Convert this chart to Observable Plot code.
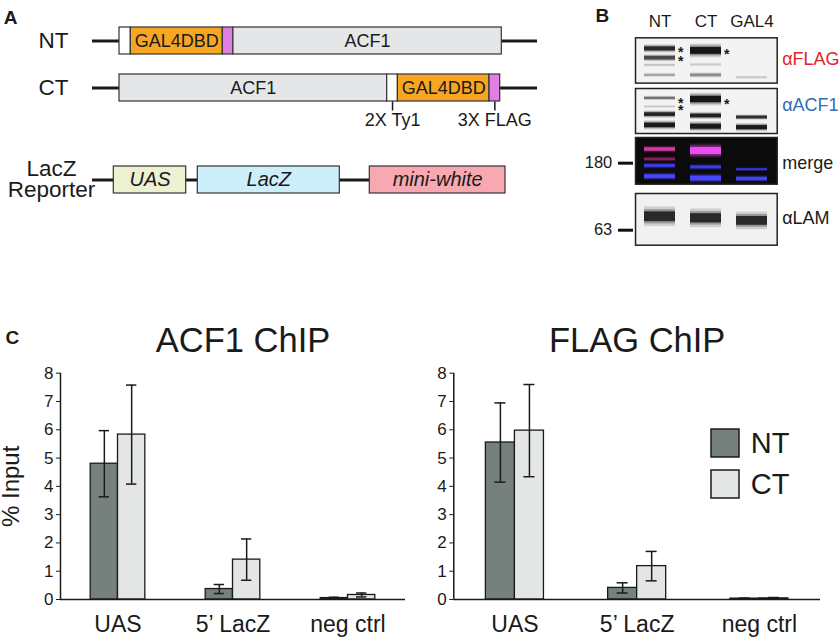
<!DOCTYPE html>
<html><head><meta charset="utf-8">
<script src="https://cdn.jsdelivr.net/npm/d3@7"></script>
<script src="https://cdn.jsdelivr.net/npm/@observablehq/plot@0.6"></script>
<style>
body{margin:0;background:#fff;}
#root{position:relative;width:840px;height:638px;overflow:hidden;}
#root svg{position:absolute;}
</style></head><body><div id="root"></div>
<script>
const FONT = '"Liberation Sans", Arial, Helvetica, sans-serif';

// ---------- Panel A data ----------
const constructRows = ["NT", "CT"];
const ntParts = ["tag", "GAL4DBD", "FLAG", "ACF1"];
const ntLengths = [11.3, 92, 10.6, 268.4];
const ctParts = ["ACF1", "tag", "GAL4DBD", "FLAG"];
const ctLengths = [267.7, 10.7, 91.6, 10.7];
const backboneExtent = [-27, 418];
const partNames = ["tag", "GAL4DBD", "FLAG", "ACF1"];
const partLabels = {GAL4DBD: "GAL4DBD", ACF1: "ACF1"};
const ctAnnotParts = ["tag", "FLAG"];
const ctAnnotLabels = ["2X Ty1", "3X FLAG"];

const reporterName = "LacZ\nReporter";
const reporterParts = ["UAS", "LacZ", "mini-white"];
const reporterStarts = [21.3, 105.3, 277.3];
const reporterEnds = [93.7, 247.3, 413];
const reporterBackbone = [0, 277.3];

// ---------- Panel B data ----------
const lanes = ["NT", "CT", "GAL4"];
const flagBandLane = ["NT","NT","NT","NT","CT","CT","CT","GAL4"];
const flagBandPos  = [0.245,0.45,0.61,0.83,0.29,0.60,0.83,0.88];
const flagBandTh   = [0.09,0.08,0.04,0.05,0.15,0.04,0.06,0.04];
const flagBandInt  = [0.85,0.65,0.15,0.25,1,0.12,0.35,0.12];
const flagStarLane = ["NT","NT","CT"];
const flagStarPos  = [0.25,0.46,0.31];

const acfBandLane = ["NT","NT","NT","NT","CT","CT","CT","GAL4","GAL4"];
const acfBandPos  = [0.22,0.41,0.58,0.82,0.245,0.61,0.85,0.645,0.87];
const acfBandTh   = [0.05,0.03,0.08,0.10,0.14,0.08,0.11,0.06,0.09];
const acfBandInt  = [0.45,0.15,0.9,0.95,1,0.9,0.95,0.8,0.95];
const acfStarLane = ["NT","NT","CT"];
const acfStarPos  = [0.27,0.43,0.28];

const mergeBandLane = ["NT","NT","NT","NT","CT","CT","CT","GAL4","GAL4"];
const mergeBandPos  = [0.257,0.47,0.61,0.84,0.29,0.64,0.88,0.69,0.89];
const mergeBandTh   = [0.07,0.05,0.06,0.08,0.15,0.06,0.10,0.04,0.07];
const mergeBandCol  = ["#d83aa8","#8a1e5a","#3b3bea","#4646ff","#ee4cee","#3a3ae6","#4848ff","#3535d8","#4343f5"];

const lamBandLane = ["NT","CT","GAL4"];
const lamBandPos  = [0.45,0.48,0.53];
const lamBandTh   = [0.19,0.18,0.17];
const lamBandInt  = [0.85,0.85,0.85];

const markerKDa = ["180", "63"];
const markerPos = [0.55, 0.71];

// ---------- Panel C data ----------
const sites = ["UAS", "5\u2019 LacZ", "neg ctrl"];
const constructs = ["NT", "CT"];
const yTicks = [0, 1, 2, 3, 4, 5, 6, 7, 8];
const acf1NT    = [4.80, 0.37, 0.05];
const acf1NTerr = [1.17, 0.16, 0.03];
const acf1CT    = [5.83, 1.41, 0.16];
const acf1CTerr = [1.75, 0.73, 0.07];
const flagNT    = [5.55, 0.41, 0.03];
const flagNTerr = [1.40, 0.18, 0.02];
const flagCT    = [5.97, 1.18, 0.04];
const flagCTerr = [1.63, 0.52, 0.03];

// ---------- helpers ----------
const root = document.getElementById("root");
function place(svg, left, top) {
  svg.style.left = left + "px";
  svg.style.top = top + "px";
  root.appendChild(svg);
}
const baseStyle = {fontFamily: FONT, background: "transparent", overflow: "visible", color: "#1a1a1a", position: "absolute"};
const partColors = ["#ffffff", "#f6a623", "#df7fe3", "#e4e6e7"];
const reporterColors = ["#eef0d2", "#cdeefb", "#f8a8b0"];
const constructColors = ["#76817e", "#e4e6e6"];

function segs(row, parts, lengths) {
  let s = 0;
  return parts.map((p, i) => { const d = {row, part: p, x1: s, x2: s + lengths[i]}; s += lengths[i]; return d; });
}
const ntSegs = segs("NT", ntParts, ntLengths);
const ctSegs = segs("CT", ctParts, ctLengths);
const allSegs = ntSegs.concat(ctSegs);
const ctAnnots = ctAnnotParts.map((p, i) => {
  const s = ctSegs.find(d => d.part === p);
  return {row: "CT", x: (s.x1 + s.x2) / 2, label: ctAnnotLabels[i]};
});

// ---------- Panel A: constructs ----------
place(Plot.plot({
  width: 545, height: 140,
  marginLeft: 92, marginRight: 8, marginTop: 0, marginBottom: 0,
  style: baseStyle,
  x: {domain: backboneExtent, range: [92, 537], axis: null},
  y: {domain: constructRows, range: [6.6, 121.5], padding: 0.42, axis: null},
  color: {domain: partNames, range: partColors},
  marks: [
    Plot.ruleY(constructRows, {y: d => d, x1: backboneExtent[0], x2: backboneExtent[1], stroke: "#1a1a1a", strokeWidth: 3}),
    Plot.barX(allSegs, {y: "row", x1: "x1", x2: "x2", fill: "part", stroke: "#333", strokeWidth: 1.2}),
    Plot.text(allSegs.filter(d => partLabels[d.part]), {y: "row", x: d => (d.x1 + d.x2) / 2, text: d => partLabels[d.part], fontSize: 18, fill: "#1a1a1a"}),
    Plot.tickX(ctAnnots, {x: "x", y: "row", dy: 27.5, insetBottom: 18, stroke: "#1a1a1a", strokeWidth: 1.5}),
    Plot.text(ctAnnots, {x: "x", y: "row", text: "label", dy: 32.7, fontSize: 18}),
    Plot.axisY({tickSize: 0, tickPadding: 24, fontSize: 22.5, label: null}),
    Plot.text(["A"], {text: d => d, frameAnchor: "top-left", dx: -88.7, dy: 23.3, textAnchor: "start", lineAnchor: "bottom", fontWeight: "bold", fontSize: 19})
  ]
}), 0, 0);

// ---------- Panel A: reporter ----------
const reporterData = reporterParts.map((p, i) => ({row: "reporter", part: p, x1: reporterStarts[i], x2: reporterEnds[i]}));
place(Plot.plot({
  width: 545, height: 90,
  marginLeft: 92, marginRight: 40, marginTop: 0, marginBottom: 0,
  style: baseStyle,
  x: {domain: [0, 413], range: [92, 505], axis: null},
  y: {domain: ["reporter"], range: [26, 53.3], padding: 0, axis: null},
  color: {domain: reporterParts, range: reporterColors},
  marks: [
    Plot.ruleY(["reporter"], {y: d => d, x1: reporterBackbone[0], x2: reporterBackbone[1], stroke: "#1a1a1a", strokeWidth: 3}),
    Plot.barX(reporterData, {y: "row", x1: "x1", x2: "x2", fill: "part", stroke: "#333", strokeWidth: 1.2}),
    Plot.text(reporterData, {y: "row", x: d => (d.x1 + d.x2) / 2, text: "part", fontSize: 20, fontStyle: "italic", fill: "#1a1a1a"}),
    Plot.text([reporterName], {y: () => "reporter", text: d => d, frameAnchor: "left", dx: -41, textAnchor: "middle", lineHeight: 0.92, fontSize: 22.5})
  ]
}), 0, 140);

// ---------- Panel B: blots ----------
function bands(lane, pos, th, extra) {
  return lane.map((l, i) => ({lane: l, pos: pos[i], th: th[i], v: extra[i]}));
}
function blot({top, h, mt, data, bg, colorMode, label, labelColor, labelDy, stars, marker, axisTop, letter}) {
  const merge = colorMode === "merge";
  const halo = (k, o) => merge
    ? Plot.barY(data, {x: "lane", y1: d => d.pos - d.th * k / 2, y2: d => d.pos + d.th * k / 2, fill: "v", fillOpacity: o})
    : Plot.barY(data, {x: "lane", y1: d => d.pos - d.th * k / 2, y2: d => d.pos + d.th * k / 2, fill: "#151515", fillOpacity: d => d.v * o});
  const marks = [
    Plot.frame({fill: bg}),
    halo(2.0, 0.18),
    halo(1.45, 0.35),
    halo(1.0, 1),
    Plot.frame({stroke: "#222", strokeWidth: 1.5}),
    Plot.text([label], {text: d => d, frameAnchor: "right", dx: 5, dy: labelDy, textAnchor: "start", fill: labelColor, fontSize: 18})
  ];
  if (stars) marks.push(Plot.text(stars, {x: "lane", y: "pos", text: () => "*", dx: 18, dy: 3, textAnchor: "start", fontSize: 14, fontWeight: "bold", fill: "#1a1a1a"}));
  if (marker) {
    marks.push(Plot.text([marker], {y: "pos", text: "kDa", frameAnchor: "left", dx: -23.3, textAnchor: "end", fontSize: 16.5}));
    marks.push(Plot.ruleY([marker], {y: "pos", dx: -17, insetRight: 126.7, stroke: "#111", strokeWidth: 3}));
  }
  if (axisTop) marks.push(Plot.axisX({anchor: "top", tickSize: 0, tickPadding: 10.5, fontSize: 17, label: null}));
  if (letter) marks.push(Plot.text([letter], {text: d => d, frameAnchor: "top-left", dx: -40, dy: -15.6, textAnchor: "start", lineAnchor: "bottom", fontWeight: "bold", fontSize: 19}));
  place(Plot.plot({
    width: 260, height: mt + h + 2,
    marginLeft: 55, marginRight: 63.3, marginTop: mt, marginBottom: 2,
    style: baseStyle,
    x: {domain: lanes, paddingInner: 0.33, paddingOuter: 0.2, axis: null},
    y: {domain: [0, 1], reverse: true, axis: null},
    color: merge ? {type: "identity"} : undefined,
    opacity: {type: "identity"},
    marks
  }), 580, top - mt);
}
const starsOf = (lane, pos) => lane.map((l, i) => ({lane: l, pos: pos[i]}));
blot({top: 37.3, h: 45.3, mt: 37.3, data: bands(flagBandLane, flagBandPos, flagBandTh, flagBandInt), bg: "#f3f3f3",
  label: "\u03b1FLAG", labelColor: "#e0262b", labelDy: -1.7, stars: starsOf(flagStarLane, flagStarPos), axisTop: true, letter: "B"});
blot({top: 88.3, h: 45, mt: 2, data: bands(acfBandLane, acfBandPos, acfBandTh, acfBandInt), bg: "#f3f3f3",
  label: "\u03b1ACF1", labelColor: "#2f6fb3", labelDy: -5.8, stars: starsOf(acfStarLane, acfStarPos)});
blot({top: 137.3, h: 46.7, mt: 2, data: bands(mergeBandLane, mergeBandPos, mergeBandTh, mergeBandCol), bg: "#0b0b0b", colorMode: "merge",
  label: "merge", labelColor: "#1a1a1a", labelDy: 2.3, marker: {kDa: markerKDa[0], pos: markerPos[0]}});
blot({top: 193.3, h: 51.7, mt: 2, data: bands(lamBandLane, lamBandPos, lamBandTh, lamBandInt), bg: "#f1f1f1",
  label: "\u03b1LAM", labelColor: "#1a1a1a", labelDy: -1.2, marker: {kDa: markerKDa[1], pos: markerPos[1]}});

// ---------- Panel C: ChIP charts ----------
const BW = 0.2375;   // bar width in group units
const CAP = 0.045;   // error cap half width
function chip({title, nt, ntErr, ct, ctErr, left, marginLeft, marginRight, titleDx, letter, yLabel}) {
  const rows = sites.flatMap((s, i) => [
    {site: s, i, construct: "NT", value: nt[i], err: ntErr[i]},
    {site: s, i, construct: "CT", value: ct[i], err: ctErr[i]}
  ]);
  const x1 = d => d.i + 0.5 + (d.construct === "NT" ? -BW : 0);
  const xc = d => x1(d) + BW / 2;
  const marks = [
    Plot.rectY(rows, {x1, x2: d => x1(d) + BW, y: "value", fill: "construct", stroke: "#1a1a1a", strokeWidth: 1.3}),
    Plot.ruleX(rows, {x: xc, y1: d => d.value - d.err, y2: d => d.value + d.err, stroke: "#1a1a1a", strokeWidth: 1.5}),
    Plot.ruleY(rows, {y: d => d.value - d.err, x1: d => xc(d) - CAP, x2: d => xc(d) + CAP, stroke: "#1a1a1a", strokeWidth: 1.5}),
    Plot.ruleY(rows, {y: d => d.value + d.err, x1: d => xc(d) - CAP, x2: d => xc(d) + CAP, stroke: "#1a1a1a", strokeWidth: 1.5}),
    Plot.ruleY([0], {stroke: "#1a1a1a", strokeWidth: 1.5}),
    Plot.ruleX([0], {stroke: "#1a1a1a", strokeWidth: 1.5}),
    Plot.axisY({ticks: yTicks, tickSize: 4, tickPadding: 3, fontSize: 17, tickFormat: d => d, label: null}),
    Plot.axisX({ticks: sites.map((_, i) => i + 0.5), tickFormat: d => sites[Math.floor(d)], tickSize: 0, tickPadding: 16, fontSize: 23, label: null}),
    Plot.text([title], {text: d => d, frameAnchor: "top", dx: titleDx, dy: -21, lineAnchor: "bottom", fontSize: 34.5})
  ];
  if (yLabel) marks.push(Plot.text([yLabel], {text: d => d, frameAnchor: "left", dx: -49, rotate: -90, textAnchor: "middle", lineAnchor: "middle", fontSize: 24}));
  if (letter) marks.push(Plot.text([letter], {text: d => d, frameAnchor: "top-left", dx: -55, dy: -29.7, textAnchor: "start", lineAnchor: "bottom", fontWeight: "bold", fontSize: 19}));
  place(Plot.plot({
    width: 420, height: 348,
    marginTop: 82.7, marginBottom: 39, marginLeft, marginRight,
    style: baseStyle,
    x: {domain: [0, 3], axis: null},
    y: {domain: [0, 8], axis: null},
    color: {domain: constructs, range: constructColors},
    marks
  }), left, 290);
}
chip({title: "ACF1 ChIP", nt: acf1NT, ntErr: acf1NTerr, ct: acf1CT, ctErr: acf1CTerr, left: 0, marginLeft: 60, marginRight: 15, titleDx: 10, letter: "C", yLabel: "% Input"});
chip({title: "FLAG ChIP", nt: flagNT, ntErr: flagNTerr, ct: flagCT, ctErr: flagCTerr, left: 420, marginLeft: 33.3, marginRight: 20, titleDx: 0});

// ---------- Legend ----------
place(Plot.plot({
  width: 140, height: 90, margin: 0,
  style: baseStyle,
  x: {domain: [""], range: [10.7, 39], padding: 0, axis: null},
  y: {domain: constructs, range: [-5, 91.7], padding: 0.32, axis: null},
  color: {domain: constructs, range: constructColors},
  marks: [
    Plot.cell(constructs, {x: () => "", y: d => d, fill: d => d, stroke: "#1a1a1a", strokeWidth: 1.5}),
    Plot.text(constructs, {x: () => "", y: d => d, text: d => d, dx: 25.2, textAnchor: "start", fontSize: 29})
  ]
}), 700, 420);
</script></body></html>
